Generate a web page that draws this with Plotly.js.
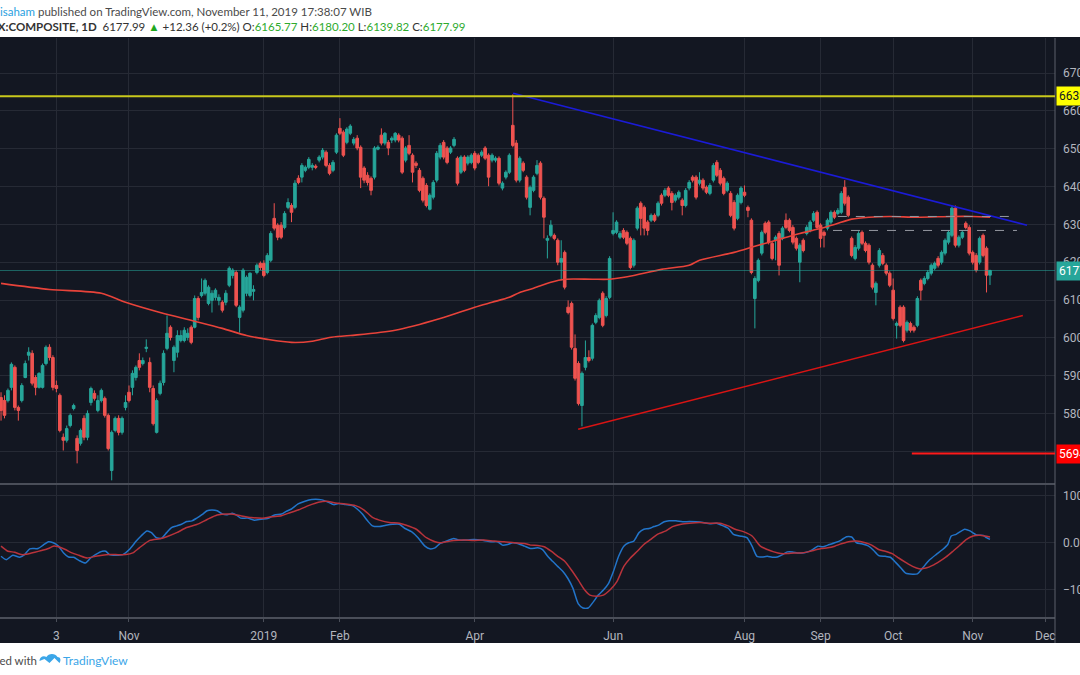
<!DOCTYPE html>
<html><head><meta charset="utf-8">
<script src="https://cdn.plot.ly/plotly-3.0.1.min.js"></script>
<style>html,body{margin:0;padding:0;background:#fff;overflow:hidden}#chart{width:1080px;height:675px}</style>
</head><body><div id="chart"></div>
<script>
// ---- Daily OHLC, IDX:COMPOSITE (bars, oldest first) ----
const open = [
5842,5834,5834,5869,5922,5816,5834,5895,5954,5959,
5895,5869,5869,5932,5975,5948,5874,5848,5737,5729,
5768,5813,5734,5721,5787,5737,5829,5853,5808,5834,
5840,5795,5649,5755,5787,5750,5816,5856,5869,5895,
5940,5932,5972,5935,5866,5750,5853,5882,5972,6028,
5940,5962,5993,5993,6001,6028,6028,6104,6112,6118,
6091,6099,6107,6099,6094,6094,6139,6165,6173,6054,
6073,6118,6112,6123,6173,6197,6197,6173,6205,6316,
6298,6298,6292,6345,6350,6345,6422,6425,6443,6451,
6451,6454,6470,6478,6491,6456,6443,6491,6554,6544,
6517,6541,6515,6528,6504,6449,6430,6422,6425,6499,
6536,6515,6517,6523,6523,6536,6528,6470,6509,6483,
6462,6443,6422,6403,6340,6372,6417,6478,6517,6502,
6491,6509,6475,6438,6478,6462,6464,6488,6483,6483,
6502,6483,6470,6470,6475,6396,6425,6438,6562,6515,
6417,6462,6425,6345,6390,6435,6462,6369,6258,6271,
6271,6258,6200,6226,6081,6091,5972,5932,5821,5922,
5948,5946,6041,6054,6118,6059,6107,6276,6279,6266,
6284,6279,6263,6192,6290,6356,6345,6306,6311,6324,
6324,6377,6377,6396,6382,6364,6372,6364,6350,6396,
6425,6425,6409,6417,6398,6382,6417,6464,6443,6422,
6390,6382,6358,6316,6358,6385,6345,6311,6104,6152,
6224,6303,6306,6250,6258,6276,6263,6311,6311,6292,
6263,6200,6258,6276,6284,6311,6332,6298,6279,6290,
6306,6332,6329,6332,6398,6372,6263,6210,6237,6279,
6250,6245,6192,6120,6192,6218,6192,6171,6126,6033,
6081,6081,6020,6038,6028,6033,6152,6144,6157,6171,
6184,6210,6200,6224,6253,6271,6343,6245,6266,6303,
6292,6226,6218,6200,6271,6237,6165.77];
const high = [
5856,5848,5866,5935,5927,5821,5880,5940,5975,5967,
5901,5909,5932,5980,5983,5954,5887,5853,5747,5768,
5800,5826,5742,5760,5795,5808,5871,5861,5848,5866,
5845,5800,5755,5792,5795,5792,5848,5874,5914,5927,
5959,5948,5996,5948,5874,5840,5887,5967,6059,6033,
5980,6020,6020,6028,6025,6033,6112,6110,6157,6157,
6139,6126,6131,6115,6099,6126,6189,6184,6179,6086,
6184,6165,6173,6139,6197,6202,6205,6224,6282,6356,
6303,6306,6335,6369,6356,6417,6430,6462,6456,6478,
6462,6459,6483,6502,6496,6462,6470,6541,6581,6549,
6557,6565,6531,6536,6509,6454,6438,6427,6507,6509,
6554,6544,6523,6533,6544,6541,6533,6507,6536,6488,
6467,6449,6427,6409,6382,6417,6494,6515,6523,6507,
6507,6531,6480,6483,6483,6483,6488,6494,6488,6496,
6507,6488,6488,6480,6480,6414,6443,6488,6644,6523,
6480,6467,6430,6403,6430,6470,6467,6374,6271,6311,
6276,6263,6258,6231,6099,6096,6009,5938,5911,5993,
5967,6038,6065,6104,6123,6110,6216,6332,6311,6282,
6290,6284,6268,6263,6348,6361,6350,6311,6329,6329,
6361,6382,6396,6401,6388,6382,6390,6369,6396,6417,
6430,6430,6438,6422,6403,6409,6462,6470,6449,6427,
6414,6388,6364,6382,6401,6403,6350,6316,6163,6210,
6284,6308,6311,6255,6271,6282,6295,6329,6316,6298,
6268,6250,6263,6298,6311,6335,6337,6303,6284,6316,
6337,6337,6343,6388,6417,6377,6268,6245,6282,6284,
6255,6250,6197,6149,6237,6224,6197,6176,6157,6043,
6086,6086,6046,6043,6033,6110,6157,6163,6179,6197,
6202,6216,6231,6263,6284,6350,6350,6271,6284,6308,
6298,6231,6224,6268,6276,6242,6180.20];
const low = [
5781,5787,5829,5861,5808,5781,5829,5893,5940,5874,
5848,5866,5866,5927,5940,5861,5856,5750,5702,5723,
5763,5808,5668,5715,5729,5729,5821,5834,5803,5829,
5789,5702,5623,5750,5742,5744,5808,5829,5848,5887,
5914,5927,5962,5856,5768,5747,5848,5874,5967,5993,
5909,5948,5988,5988,5993,5983,6025,6046,6107,6112,
6086,6067,6099,6086,6067,6086,6134,6157,6081,6014,
6067,6110,6107,6099,6168,6179,6160,6168,6200,6284,
6258,6261,6287,6340,6306,6340,6406,6411,6438,6446,
6443,6446,6464,6472,6451,6430,6438,6486,6536,6478,
6512,6536,6509,6496,6396,6409,6403,6377,6419,6496,
6509,6509,6483,6515,6517,6517,6433,6464,6483,6411,
6449,6385,6358,6345,6337,6366,6411,6472,6472,6459,
6486,6504,6403,6433,6438,6456,6459,6443,6459,6478,
6470,6401,6464,6464,6403,6390,6419,6433,6504,6411,
6411,6438,6366,6324,6385,6430,6366,6263,6210,6266,
6258,6192,6152,6128,6062,5969,5887,5821,5766,5914,
5935,5940,6036,6049,6028,6054,6102,6271,6274,6261,
6261,6245,6181,6186,6284,6271,6271,6271,6306,6306,
6319,6350,6372,6372,6337,6358,6366,6324,6345,6390,
6411,6366,6403,6390,6380,6377,6411,6425,6403,6377,
6385,6319,6284,6311,6353,6372,6319,6168,6025,6147,
6218,6274,6247,6205,6205,6165,6258,6287,6279,6247,
6231,6147,6226,6271,6279,6306,6287,6239,6239,6284,
6300,6314,6324,6327,6350,6319,6213,6205,6231,6245,
6226,6194,6128,6086,6186,6192,6165,6134,6046,5998,
6028,5988,6014,6014,6014,6028,6099,6139,6152,6165,
6179,6186,6194,6218,6247,6266,6239,6239,6261,6287,
6218,6194,6173,6194,6213,6120,6139.82];
const close = [
5808,5795,5861,5930,5816,5808,5874,5932,5962,5880,
5869,5906,5927,5975,5948,5869,5866,5755,5729,5760,
5795,5821,5702,5755,5737,5800,5866,5840,5834,5861,
5795,5707,5750,5787,5750,5787,5829,5834,5906,5922,
5922,5940,5975,5869,5773,5834,5880,5959,6012,6001,
5975,6006,6006,6020,6012,5988,6104,6054,6120,6152,
6134,6118,6126,6107,6073,6118,6184,6179,6086,6081,
6179,6160,6171,6128,6192,6186,6165,6218,6276,6290,
6266,6266,6329,6358,6332,6409,6411,6456,6451,6472,
6456,6451,6478,6496,6456,6435,6464,6536,6541,6483,
6552,6560,6525,6502,6425,6417,6411,6390,6502,6504,
6515,6541,6502,6528,6541,6523,6438,6502,6488,6438,
6456,6390,6364,6350,6377,6411,6488,6509,6478,6464,
6502,6525,6409,6478,6443,6478,6483,6449,6464,6491,
6475,6425,6483,6475,6409,6409,6438,6483,6509,6417,
6475,6443,6372,6398,6425,6456,6372,6319,6263,6298,
6263,6200,6210,6134,6067,5975,5893,5826,5906,5948,
5940,6033,6059,6099,6033,6104,6210,6284,6306,6276,
6266,6250,6186,6258,6343,6316,6290,6284,6324,6311,
6356,6356,6390,6377,6358,6377,6385,6350,6390,6411,
6417,6372,6417,6396,6385,6403,6456,6430,6409,6382,
6409,6324,6290,6377,6396,6377,6337,6173,6157,6205,
6279,6279,6253,6210,6266,6192,6290,6292,6284,6253,
6237,6245,6231,6292,6306,6329,6292,6263,6271,6311,
6332,6319,6337,6382,6356,6324,6218,6239,6276,6250,
6231,6200,6134,6144,6231,6197,6171,6139,6051,6038,
6033,5993,6041,6020,6020,6104,6126,6157,6173,6192,
6197,6192,6226,6258,6279,6343,6245,6266,6279,6292,
6224,6200,6179,6263,6218,6165.63,6177.99];

// ---- moving average (red curve) ----
const maBar = [0,14,29,36,46,56,64,71,77,84,90,95,101,114,127,137,142,147,150,154,159,163,171,176,183,191,199,202,212,218,226,231,236,241,246,251,257,265,275,281,286];
const maVal = [6144,6128,6118,6094,6067,6044,6025,6006,5996,5988,5991,6001,6006,6020,6051,6081,6094,6107,6120,6131,6147,6155,6155,6155,6165,6181,6192,6205,6226,6242,6263,6276,6287,6300,6314,6319,6321,6319,6321,6321,6319];

// ---- oscillator (lower pane) ----
const oscBlueBar = [0,1.5,3.4,5.4,6.8,8.3,10.7,12.2,13.7,15.1,16.6,18.1,19.5,21,22.5,24.4,25.9,27.3,29.3,30.3,31.3,33.2,35.2,37.1,39.1,40.5,42.2,43.5,44.9,46.4,47.9,49.3,50.8,52.2,53.7,55.2,56.6,58.1,59.6,61,62.5,64,65.4,66.9,68.4,69.3,71.3,73.2,75.2,77.1,79.1,81.1,82.5,84,85.9,87.9,89.8,92.8,94.7,96.2,97.7,99.6,101.6,103,104.5,106,107.4,109.4,111.3,113.3,115.2,116.7,118.7,120.6,122.6,124,125.5,127,128.9,130.9,132.3,134.8,136.7,139.6,141.6,143.6,145,146.5,148,149.4,151.4,153.1,
155.2,156.6,158.1,159.5,161,162.5,163.9,165.4,166.9,168.3,169.8,171.3,172.7,174.2,175.7,177.1,178.6,180.1,181.5,183,184.5,185.9,187.4,188.8,190.3,191.8,193.2,195.2,197.1,199.1,201.1,203,205,206.9,208.9,210.3,211.8,213.7,215.7,217.2,218.6,220.1,221.6,223,224.5,226,227.4,228.9,230.3,231.8,233.3,234.7,236.2,237.7,239.1,241.1,243,244.5,246,247.4,248.9,250.9,252.3,253.8,255.7,257.2,258.7,260.1,261.6,263.6,265,266.5,268.4,270.4,272.3,273.8,274.8,276.2,278.7,280.2,282.1,284.1,285,286];
const oscBlueVal = [-28.8,-36,-26.6,-30.9,-25.2,-12.9,-12.2,-5,2.2,0,-7.2,-21.6,-30.2,-30.9,-37.4,-43.1,-32.4,-25.2,-18,-18,-25.2,-26.6,-25.2,-14.4,3.6,14.4,25.2,21.6,10.8,9.3,21.6,32.4,36,39.5,45.3,46.7,52.5,59.7,68.3,69.7,68.3,61.1,59.7,62.6,57.5,52.5,52.5,48.2,50.3,51.8,59,61.1,66.9,71.9,82.7,88.4,92,91.3,86.3,81.2,83.4,81.2,79.1,71.9,61.1,46.7,36,34.5,37.4,39.5,39.5,30.9,23.7,10.8,-7.2,-12.9,-10.8,-1.4,3.6,9.3,5.8,5.8,7.2,5,2.2,2.2,-5,-3.6,0,-1.4,-7.2,-12.2,
-10.8,-14.4,-28.8,-39.5,-50.3,-61.1,-75.5,-97.1,-129.4,-138.8,-138.8,-125.8,-111.4,-100.7,-86.3,-61.1,-28.8,-7.2,0,3.6,21.6,28.8,30.2,34.5,38.1,44.6,46.7,46.7,44.6,45.3,44.6,43.1,40.3,41.7,35.9,30.9,18,14.4,10.8,-7.2,-28.8,-30.2,-28.8,-30.9,-30.2,-25.2,-19.4,-19.4,-21.6,-21.6,-19.4,-14.4,-7.2,-8.6,-5,0,5.8,12.9,12.2,0,-2.2,-7.2,-15.8,-27.3,-28.8,-30.9,-41.7,-52.5,-64.7,-66.9,-66.1,-53.9,-37.4,-25.2,-14.4,-3.6,14.4,18,28.8,25.2,16.5,15.8,10.8,7.2];
const oscRedBar = [0,2,3.9,5.9,7.8,9.8,11.7,13.7,15.1,16.6,18.6,20.5,22.5,24.9,27.3,29.3,31.3,33.2,36.1,38.1,40,43,45.9,47.9,50.8,53.7,56.6,59.6,62.5,66.4,69.3,72.3,76.2,78.1,81.1,83,85.9,88.9,91.8,94.2,96.7,99.6,102.5,105,107.4,109.4,112.3,115.2,117.2,120.1,123,125.5,127,130.9,133.8,136.7,139.6,142.6,145.5,148.4,151.4,153.1,
155.2,157.1,159.1,161,163,164.9,166.9,168.8,170.3,172.2,174.2,176.1,178.1,180.1,182,184,185.9,187.9,189.8,192.3,194.2,196.7,199.1,202,205,207.9,210.3,212.3,214.7,217.2,219.6,221.6,223.5,225.5,227.4,229.4,231.3,233.3,235.2,237.2,239.1,241.1,243,245.5,247.4,249.9,251.8,253.8,255.7,257.7,259.6,261.6,263.6,265.5,267.5,269.4,271.4,273.3,275.3,277.2,279.2,281.1,283.1,284.5,286];
const oscRedVal = [-7.2,-18,-20.1,-25.2,-23.7,-20.1,-16.5,-12.2,-7.2,-8.6,-14.4,-21.6,-26.6,-32.4,-28.8,-26.6,-25.2,-25.2,-25.2,-21.6,-10.8,5,8.6,12.9,21.6,32.4,38.8,49.6,59,61.1,57.5,53.9,52.5,55.4,57.5,62.6,69.7,79.1,86.3,88.4,84.8,82.7,79.1,69.7,53.9,48.2,43.1,41.7,37.4,28.8,10.8,2.2,0,5,5.8,5,5.8,3.6,2.2,0,-1.4,-5,
-5.8,-8.6,-18,-28.8,-39.5,-57.5,-79.1,-100.7,-111.4,-113.6,-111.4,-100.7,-82.7,-50.3,-32.4,-18,-3.6,7.2,18,25.2,34.5,39.5,41.7,43.1,41.7,41.7,35.9,28.8,23.7,14.4,-7.2,-14.4,-19.4,-23,-23,-21.6,-21.6,-19.4,-15.8,-12.2,-10.8,-7.2,-2.2,2.9,3.6,0,-5,-14.4,-18,-23,-32.4,-41.7,-50.3,-55.4,-53.9,-48.2,-39.5,-30.2,-18,-5.8,7.2,14.4,15.8,14.4,12.2];

// ---- drawings ----
const resistanceLevel = 6639;
const supportLevel = 5694, supportFromBar = 263.4;
const lastPrice = 6177.99;
const downTrendBar = [148.1, 296.7], downTrendVal = [6647, 6298];
const upTrendBar = [166.9, 295.5], upTrendVal = [5758, 6059];
const dashLevel = [6321, 6284], dashFrom = [242, 240.6], dashTo = [293.8, 293.8];

// ---- axis labels ----
const tickBars = [16,37,76,98,137,177,215,237,258,281,302];
const tickText = ['3','Nov','2019','Feb','Apr','Jun','Aug','Sep','Oct','Nov','Dec'];
const priceTicks = [5700,5800,5900,6000,6100,6200,6300,6400,6500,6600,6700];
const oscTicks = [-100,0,100], oscTickText = ['\u2212100.00','0.00','100.00'];

const bar = close.map((_, i) => i);

const BG = '#131722', GRID = '#262a35', TXT = '#b2b5be';

const traces = [
  {type:'candlestick', x:bar, open:open, high:high, low:low, close:close,
   increasing:{line:{color:'#26a69a', width:1}, fillcolor:'#26a69a'},
   decreasing:{line:{color:'#ef5350', width:1}, fillcolor:'#ef5350'},
   whiskerwidth:0, hoverinfo:'skip', showlegend:false, xaxis:'x', yaxis:'y'},
  {type:'scatter', mode:'lines', x:maBar, y:maVal, line:{color:'#e8433a', width:1.6, shape:'spline', smoothing:0.8}, hoverinfo:'skip', xaxis:'x', yaxis:'y'},
  {type:'scatter', mode:'lines', x:downTrendBar, y:downTrendVal, line:{color:'#1b1bd6', width:1.6}, hoverinfo:'skip', xaxis:'x', yaxis:'y'},
  {type:'scatter', mode:'lines', x:upTrendBar, y:upTrendVal, line:{color:'#d81414', width:1.6}, hoverinfo:'skip', xaxis:'x', yaxis:'y'},
  {type:'scatter', mode:'lines', x:oscBlueBar, y:oscBlueVal, line:{color:'#2274c9', width:1.5, shape:'spline', smoothing:0.6}, hoverinfo:'skip', xaxis:'x', yaxis:'y2'},
  {type:'scatter', mode:'lines', x:oscRedBar, y:oscRedVal, line:{color:'#b8333b', width:1.5, shape:'spline', smoothing:0.6}, hoverinfo:'skip', xaxis:'x', yaxis:'y2'}
];

const shapes = [
  {type:'rect', xref:'paper', yref:'paper', x0:-0.1, x1:1.2, y0:1.0017, y1:1.2, fillcolor:'#ffffff', line:{width:0}, layer:'below'},
  {type:'rect', xref:'paper', yref:'paper', x0:-0.1, x1:1.2, y0:-0.2, y1:-0.0449, fillcolor:'#ffffff', line:{width:0}, layer:'below'},
  {type:'line', xref:'paper', yref:'paper', x0:0, x1:1, y0:0.2297, y1:0.2297, line:{color:'#4a4e59', width:2}},
  {type:'line', xref:'paper', yref:'paper', x0:1, x1:1, y0:-0.0449, y1:1, line:{color:'#5d606b', width:1}},
  {type:'line', xref:'paper', yref:'y', x0:0, x1:1, y0:lastPrice, y1:lastPrice, line:{color:'rgba(38,166,154,0.55)', width:1}},
  {type:'line', xref:'paper', yref:'y', x0:0, x1:1, y0:resistanceLevel, y1:resistanceLevel, line:{color:'#c9c91c', width:2}},
  {type:'line', xref:'x', yref:'y', x0:supportFromBar, x1:310, y0:supportLevel, y1:supportLevel, line:{color:'#ff1a1a', width:2}},
  {type:'line', xref:'x', yref:'y', x0:dashFrom[0], x1:dashTo[0], y0:dashLevel[0], y1:dashLevel[0], line:{color:'#9598a1', width:1, dash:'dash'}},
  {type:'line', xref:'x', yref:'y', x0:dashFrom[1], x1:dashTo[1], y0:dashLevel[1], y1:dashLevel[1], line:{color:'#9598a1', width:1, dash:'dash'}},
  {type:'path', xref:'paper', yref:'paper', xsizemode:'pixel', ysizemode:'pixel', xanchor:0.0374, yanchor:-0.0743,
   path:'M 0 -1 C 0 3, 4 5, 7 3 C 9 7, 16 7, 18 3 C 21 3, 22 0, 20 -3 L 15 2 L 10 -3 L 5 1 Z', fillcolor:'#3ba6e8', line:{width:0}}
];

const G = '#2eab2e';
const HF = 'Lato, sans-serif';
const annotations = [
  {xref:'paper', yref:'paper', x:0, y:1.0466, xanchor:'left', yanchor:'middle', xshift:-2, showarrow:false,
   text:'<span style="color:#2a9fe0">isaham</span> published on TradingView.com, November 11, 2019 17:38:07 WIB',
   font:{family:HF, size:11.5, color:'#4a4a4a'}},
  {xref:'paper', yref:'paper', x:0, y:1.019, xanchor:'left', yanchor:'middle', xshift:-16, showarrow:false,
   text:'<b>IDX:COMPOSITE, 1D</b>\u00a0 6177.99 <span style="color:#1fa81f">\u25B2</span> +12.36 (+0.2%) O:<span style="color:'+G+'">6165.77</span> H:<span style="color:'+G+'">6180.20</span> L:<span style="color:'+G+'">6139.82</span> C:<span style="color:'+G+'">6177.99</span>',
   font:{family:HF, size:11.5, color:'#333333'}},
  {xref:'paper', yref:'paper', x:0.0365, y:-0.0743, xanchor:'right', yanchor:'middle', showarrow:false,
   text:'Created with', font:{family:HF, size:11.5, color:'#4a4a4a'}},
  {xref:'paper', yref:'paper', x:0.0575, y:-0.0743, xanchor:'left', yanchor:'middle', showarrow:false,
   text:'TradingView', font:{family:HF, size:12, color:'#3ba6e8'}},
  {xref:'paper', yref:'y', x:1, y:resistanceLevel, xanchor:'left', yanchor:'middle', xshift:1, showarrow:false,
   text:'6639.00', bgcolor:'#ffff00', borderpad:2, font:{family:'Roboto, sans-serif', size:12, color:'#131722'}},
  {xref:'paper', yref:'y', x:1, y:lastPrice, xanchor:'left', yanchor:'middle', xshift:1, showarrow:false,
   text:'6177.99', bgcolor:'#26a69a', borderpad:2, font:{family:'Roboto, sans-serif', size:12, color:'#ffffff'}},
  {xref:'paper', yref:'y', x:1, y:supportLevel, xanchor:'left', yanchor:'middle', xshift:1, showarrow:false,
   text:'5694.00', bgcolor:'#ff0000', borderpad:2, font:{family:'Roboto, sans-serif', size:12, color:'#ffffff'}}
];

const layout = {
  width:1080, height:675,
  margin:{l:0, r:25, t:38, b:58, pad:0},
  paper_bgcolor:BG, plot_bgcolor:BG, showlegend:false,
  font:{family:'Roboto, sans-serif', color:TXT, size:12},
  boxgap:0.25, boxgroupgap:0,
  xaxis:{range:[-0.3,304.8], anchor:'y2', tickmode:'array', tickvals:tickBars, ticktext:tickText,
         showgrid:true, gridcolor:GRID, zeroline:false, showline:true, linecolor:'#4a4e59', linewidth:2,
         ticks:'outside', ticklen:3, tickcolor:'#4a4e59', ticklabelstandoff:4,
         tickfont:{size:12, color:TXT}, rangeslider:{visible:false}, fixedrange:true},
  yaxis:{domain:[0.2314,1], range:[5616,6793], side:'right', anchor:'x', tickmode:'array', tickvals:priceTicks, tickformat:'.2f',
         showgrid:true, gridcolor:GRID, zeroline:false, showline:false, ticks:'', ticklabelstandoff:7,
         tickfont:{size:12, color:TXT}, fixedrange:true},
  yaxis2:{domain:[0,0.228], range:[-158,123], side:'right', anchor:'x', tickmode:'array', tickvals:oscTicks, ticktext:oscTickText,
          showgrid:true, gridcolor:GRID, zeroline:false, showline:false, ticks:'', ticklabelstandoff:7,
          tickfont:{size:12, color:TXT}, fixedrange:true},
  shapes:shapes, annotations:annotations
};

Plotly.newPlot('chart', traces, layout, {staticPlot:true, displayModeBar:false});
</script></body></html>
